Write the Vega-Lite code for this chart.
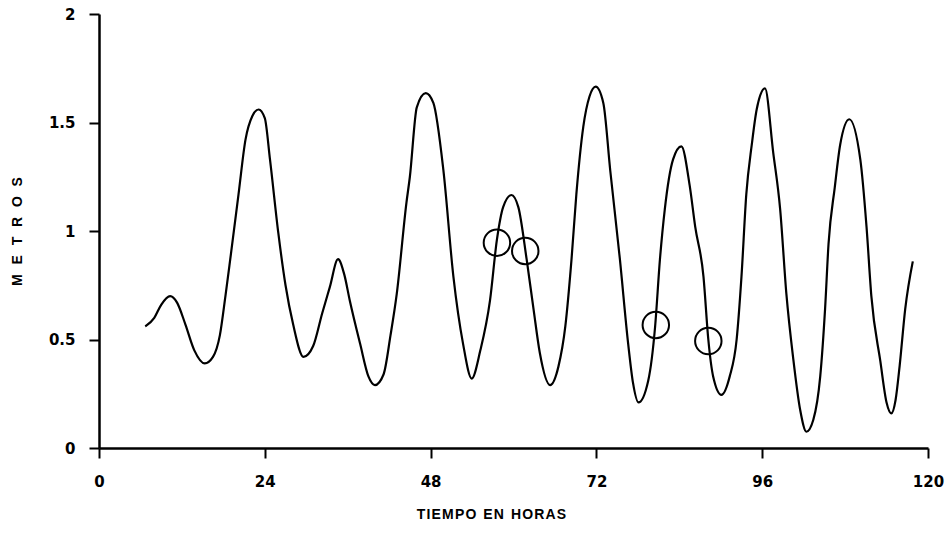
{
  "$schema": "https://vega.github.io/schema/vega-lite/v6.json",
  "autosize": "none",
  "width": 829,
  "height": 434,
  "padding": {"left": 99, "top": 14, "right": 22, "bottom": 92},
  "background": "white",
  "config": {
    "view": {"stroke": null},
    "font": "Liberation Sans",
    "axis": {
      "grid": false,
      "domainColor": "black",
      "domainWidth": 2.5,
      "tickColor": "black",
      "tickWidth": 2,
      "tickSize": 10,
      "labelColor": "black",
      "labelFont": "DejaVu Sans",
      "labelFontWeight": "bold",
      "labelFontSize": 15,
      "titleColor": "black",
      "titleFont": "Liberation Sans",
      "titleFontWeight": "bold",
      "titleFontSize": 14
    }
  },
  "datasets": {
    "curve": [
      {"t": 6.7, "h": 0.56}, {"t": 8.0, "h": 0.6}, {"t": 9.0, "h": 0.66}, {"t": 10.3, "h": 0.7},
      {"t": 11.3, "h": 0.67}, {"t": 12.5, "h": 0.57}, {"t": 13.8, "h": 0.45}, {"t": 15.3, "h": 0.39},
      {"t": 16.5, "h": 0.42}, {"t": 17.5, "h": 0.52}, {"t": 18.3, "h": 0.7}, {"t": 19.0, "h": 0.87},
      {"t": 20.2, "h": 1.17}, {"t": 21.2, "h": 1.42}, {"t": 22.2, "h": 1.53}, {"t": 23.1, "h": 1.56},
      {"t": 24.0, "h": 1.52}, {"t": 24.75, "h": 1.33}, {"t": 25.96, "h": 0.99}, {"t": 27.0, "h": 0.75},
      {"t": 28.1, "h": 0.57}, {"t": 29.6, "h": 0.42}, {"t": 31.0, "h": 0.47}, {"t": 32.3, "h": 0.62},
      {"t": 33.4, "h": 0.74}, {"t": 34.6, "h": 0.87}, {"t": 35.5, "h": 0.8}, {"t": 36.3, "h": 0.68},
      {"t": 37.8, "h": 0.48}, {"t": 39.0, "h": 0.33}, {"t": 39.95, "h": 0.29}, {"t": 41.2, "h": 0.34},
      {"t": 42.2, "h": 0.52}, {"t": 43.1, "h": 0.71}, {"t": 44.5, "h": 1.13}, {"t": 45.0, "h": 1.25},
      {"t": 46.0, "h": 1.57}, {"t": 47.3, "h": 1.635}, {"t": 48.4, "h": 1.59}, {"t": 49.85, "h": 1.28},
      {"t": 51.3, "h": 0.79}, {"t": 52.7, "h": 0.48}, {"t": 53.95, "h": 0.32}, {"t": 55.2, "h": 0.45},
      {"t": 56.6, "h": 0.68}, {"t": 57.6, "h": 0.96}, {"t": 58.5, "h": 1.11}, {"t": 59.7, "h": 1.166},
      {"t": 60.7, "h": 1.11}, {"t": 61.9, "h": 0.87}, {"t": 62.9, "h": 0.64}, {"t": 63.8, "h": 0.44},
      {"t": 65.3, "h": 0.29}, {"t": 66.5, "h": 0.375}, {"t": 67.5, "h": 0.56}, {"t": 68.4, "h": 0.87},
      {"t": 69.1, "h": 1.17}, {"t": 70.1, "h": 1.48}, {"t": 71.0, "h": 1.62}, {"t": 71.9, "h": 1.665},
      {"t": 73.0, "h": 1.59}, {"t": 74.0, "h": 1.28}, {"t": 75.4, "h": 0.87}, {"t": 76.6, "h": 0.48},
      {"t": 77.3, "h": 0.3}, {"t": 78.1, "h": 0.21}, {"t": 79.5, "h": 0.31}, {"t": 80.5, "h": 0.56},
      {"t": 81.2, "h": 0.87}, {"t": 81.9, "h": 1.1}, {"t": 83.1, "h": 1.33}, {"t": 84.3, "h": 1.39},
      {"t": 85.5, "h": 1.21}, {"t": 86.3, "h": 1.02}, {"t": 87.5, "h": 0.79}, {"t": 88.2, "h": 0.5},
      {"t": 88.9, "h": 0.33}, {"t": 90.1, "h": 0.245}, {"t": 91.3, "h": 0.33}, {"t": 92.3, "h": 0.5},
      {"t": 93.0, "h": 0.79}, {"t": 93.7, "h": 1.17}, {"t": 94.5, "h": 1.4}, {"t": 95.2, "h": 1.56},
      {"t": 96.4, "h": 1.657}, {"t": 97.6, "h": 1.36}, {"t": 98.6, "h": 1.1}, {"t": 99.5, "h": 0.71},
      {"t": 100.5, "h": 0.41}, {"t": 101.5, "h": 0.175}, {"t": 102.4, "h": 0.075}, {"t": 103.4, "h": 0.13},
      {"t": 104.4, "h": 0.33}, {"t": 105.1, "h": 0.64}, {"t": 105.6, "h": 0.94}, {"t": 106.5, "h": 1.2},
      {"t": 107.3, "h": 1.4}, {"t": 108.6, "h": 1.515}, {"t": 110.2, "h": 1.33}, {"t": 111.1, "h": 1.02},
      {"t": 111.8, "h": 0.7}, {"t": 113.1, "h": 0.4}, {"t": 114.0, "h": 0.21}, {"t": 114.7, "h": 0.16},
      {"t": 115.3, "h": 0.22}, {"t": 115.9, "h": 0.38}, {"t": 116.7, "h": 0.64}, {"t": 117.8, "h": 0.86}
    ],
    "obs": [
      {"t": 57.6, "h": 0.946}, {"t": 61.7, "h": 0.908}, {"t": 80.6, "h": 0.567}, {"t": 88.2, "h": 0.493}
    ]
  },
  "layer": [
    {
      "data": {"name": "curve"},
      "mark": {"type": "line", "color": "black", "strokeWidth": 2.2, "interpolate": "monotone"},
      "encoding": {
        "x": {
          "field": "t", "type": "quantitative",
          "scale": {"domain": [0, 120], "nice": false},
          "axis": {"values": [0, 24, 48, 72, 96, 120], "title": "T\u200aI\u200aE\u200aM\u200aP\u200aO\u2002E\u200aN\u2002H\u200aO\u200aR\u200aA\u200aS", "labelPadding": 16, "titlePadding": 18, "titleX": 392, "labelFlush": false}
        },
        "y": {
          "field": "h", "type": "quantitative",
          "scale": {"domain": [0, 2], "nice": false},
          "axis": {"values": [0, 0.5, 1, 1.5, 2], "format": ".1~f", "title": "M\u2002\u2009E\u2002\u2009T\u2002\u2009R\u2002\u2009O\u2002\u2009S", "labelPadding": 14, "titlePadding": 24}
        }
      }
    },
    {
      "data": {"name": "obs"},
      "mark": {"type": "point", "shape": "circle", "filled": false, "color": "black", "strokeWidth": 2, "size": 700, "opacity": 1},
      "encoding": {
        "x": {"field": "t", "type": "quantitative"},
        "y": {"field": "h", "type": "quantitative"}
      }
    }
  ]
}
